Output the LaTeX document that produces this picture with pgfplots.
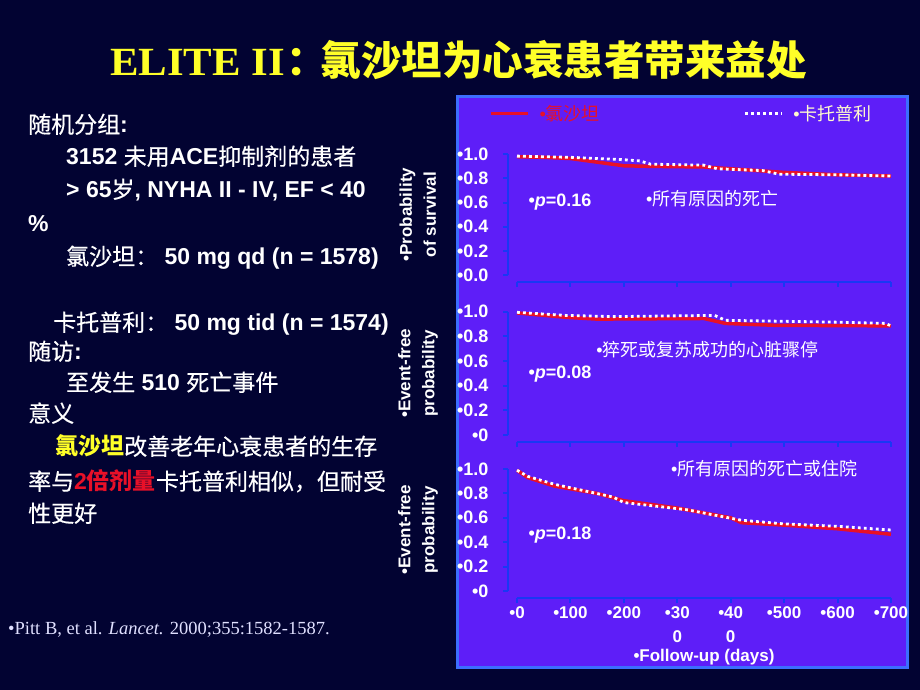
\documentclass[border=0pt]{standalone}
\usepackage{pgfplots}
\pgfplotsset{compat=1.18}
\usepackage{fontspec}
\setmainfont{Liberation Sans}
\newfontfamily\cjk{Noto Sans CJK SC}
\newfontfamily\cjkL{Noto Sans CJK SC}[FakeBold=0.4]
\newfontfamily\tnr{Liberation Serif}
\definecolor{bgdark}{RGB}{2,3,50}
\definecolor{bgmid}{RGB}{28,42,118}
\definecolor{panel}{RGB}{94,30,248}
\definecolor{panelborder}{RGB}{60,110,255}
\definecolor{axblue}{RGB}{25,55,245}
\definecolor{losred}{RGB}{232,16,40}
\definecolor{ttlyellow}{RGB}{255,255,40}
\definecolor{cream}{RGB}{255,250,205}
\newcommand{\zh}[1]{{\cjkL\mdseries #1}}
\newcommand{\zhb}[1]{{\cjk\bfseries #1}}
\newcommand{\lf}{\fontsize{23}{26}\selectfont\bfseries}
\pgfplotsset{
  panel/.style={
    scale only axis, width=374pt,
    xmin=0, xmax=700, ymin=0, ymax=1,
    axis x line*=bottom, axis y line*=left,
    axis x line shift=7pt, axis y line shift=9pt,
    axis line style={-, axblue, line width=2.5pt},
    every tick/.style={axblue, line width=2pt},
    tick align=outside, major tick length=5pt,
    xtick={0,100,...,700}, ytick={0,0.2,0.4,0.6,0.8,1},
    xticklabels={},
    yticklabel style={text=white, font=\fontsize{18}{18}\selectfont\bfseries, xshift=-11pt},
    ylabel style={at={(axis description cs:-0.265,0.5)}, anchor=center, align=center, text=white, font=\fontsize{17}{24}\selectfont\bfseries},
    clip=false,
  },
  los/.style={losred, line width=3.5pt},
  cap/.style={white, line width=2.8pt, dash pattern=on 2.8pt off 3.2pt},
}
\begin{document}
\begin{tikzpicture}[x=1pt,y=1pt]
\useasboundingbox (0,0) rectangle (920,690);
\shade[top color=bgdark, middle color=bgmid, bottom color=bgdark] (0,0) rectangle (920,690);
% title
\node[anchor=base west, text=ttlyellow, inner sep=0pt] at (110,614) {\tnr\bfseries\fontsize{40}{42}\selectfont\scalebox{1.07}[1]{ELITE II}\hspace{1pt}{\cjk\bfseries\fontsize{40.5}{42}\selectfont ：\hspace{-6pt}氯沙坦为心衰患者带来益处}};
% left text
\begin{scope}[every node/.style={anchor=base west, text=white, font=\lf, inner sep=0pt}]
\node at (28,557) {\zh{随机分组}:};
\node at (66,525) {3152 \zh{未用}ACE\zh{抑制剂的患者}};
\node at (66,492) {> 65\zh{岁}, NYHA II - IV, EF < 40};
\node at (28,458) {\%};
\node at (66,425) {\zh{氯沙坦：} 50 mg qd (n = 1578)};
\node at (53,359) {\zh{卡托普利：} 50 mg tid (n = 1574)};
\node at (28,330) {\zh{随访}:};
\node at (66,299) {\zh{至发生} 510 \zh{死亡事件}};
\node at (28,268) {\zh{意义}};
\node at (55,235) {{\color{ttlyellow}\zhb{氯沙坦}}\zh{改善老年心衰患者的生存}};
\node at (28,200) {\zh{率与}{\color{losred}2\zhb{倍剂量}}\zh{卡托普利相似，但耐受}};
\node at (28,168) {\zh{性更好}};
\end{scope}
\node[anchor=base west, text=white!88!blue, inner sep=0pt, font=\tnr\fontsize{18.5}{20}\selectfont] at (8,55) {•Pitt B, et al. \textit{Lancet.} 2000;355:1582-1587.};
% panel
\fill[panel, draw=panelborder, line width=3pt] (457,22) rectangle (907,593);
% axis 1
\begin{axis}[panel, at={(517pt,415pt)}, anchor=south west, height=120.7pt,
  yticklabels={•0.0,•0.2,•0.4,•0.6,•0.8,•1.0},
  ylabel={•Probability\\of survival},
  legend columns=2,
  legend style={at={(axis description cs:-0.075,1.34)}, anchor=west, draw=none, fill=none, text=cream, font=\fontsize{18}{18}\selectfont, inner sep=0pt},
  legend image code/.code={\draw[#1] (0pt,0pt) -- (37pt,0pt);},
]
\addplot[los] coordinates {(0,0.98) (50,0.975) (100,0.965) (150,0.935) (200,0.905) (250,0.90) (350,0.895) (400,0.88) (450,0.865) (500,0.85) (550,0.84) (600,0.83) (700,0.82)};
\addplot[cap] coordinates {(0,0.985) (100,0.975) (200,0.955) (230,0.945) (250,0.918) (350,0.91) (375,0.88) (460,0.865) (490,0.835) (600,0.83) (700,0.82)};
\legend{\makebox[210pt][l]{\hspace{8pt}\color{losred}•{\cjk 氯沙坦}}, \hspace{8pt}•{\cjk 卡托普利}}
\node[anchor=west, text=white, font=\fontsize{18}{18}\selectfont\bfseries] at (axis cs:15,0.6) {•\textit{p}=0.16};
\node[anchor=west, text=white, font=\fontsize{18}{18}\selectfont] at (axis cs:235,0.63) {•{\cjk 所有原因的死亡}};
\end{axis}
% axis 2
\begin{axis}[panel, at={(517pt,255pt)}, anchor=south west, height=123.3pt,
  yticklabels={•0,•0.2,•0.4,•0.6,•0.8,•1.0},
  ylabel={•Event-free\\probability},
]
\addplot[los] coordinates {(0,0.99) (90,0.955) (150,0.94) (350,0.945) (390,0.905) (480,0.89) (700,0.885)};
\addplot[cap] coordinates {(0,0.995) (90,0.97) (180,0.96) (370,0.97) (390,0.93) (600,0.915) (690,0.905) (700,0.885)};
\node[anchor=west, text=white, font=\fontsize{18}{18}\selectfont\bfseries] at (axis cs:15,0.49) {•\textit{p}=0.08};
\node[anchor=west, text=white, font=\fontsize{18}{18}\selectfont] at (axis cs:142,0.69) {•{\cjk 猝死或复苏成功的心脏骤停}};
\end{axis}
% axis 3
\begin{axis}[panel, at={(517pt,99pt)}, anchor=south west, height=122pt,
  yticklabels={•0,•0.2,•0.4,•0.6,•0.8,•1.0},
  ylabel={•Event-free\\probability},
  xticklabels={•0,•100,•200,{•30\\0},{•40\\0},•500,•600,•700},
  xticklabel style={text=white, font=\fontsize{17}{24}\selectfont\bfseries, align=center},
  xlabel={•Follow-up (days)},
  xlabel style={at={(axis description cs:0.5,-0.54)}, anchor=center, text=white, font=\fontsize{17}{17}\selectfont\bfseries},
]
\addplot[los] coordinates {(0,0.99) (20,0.93) (70,0.86) (150,0.80) (200,0.74) (300,0.68) (400,0.60) (420,0.56) (500,0.54) (600,0.51) (700,0.465)};
\addplot[cap] coordinates {(0,0.99) (20,0.94) (70,0.875) (180,0.77) (200,0.725) (320,0.665) (360,0.63) (420,0.58) (500,0.55) (600,0.53) (700,0.50)};
\node[anchor=west, text=white, font=\fontsize{18}{18}\selectfont\bfseries] at (axis cs:15,0.46) {•\textit{p}=0.18};
\node[anchor=west, text=white, font=\fontsize{18}{18}\selectfont] at (axis cs:282,1.0) {•{\cjk 所有原因的死亡或住院}};
\end{axis}
\end{tikzpicture}
\end{document}
